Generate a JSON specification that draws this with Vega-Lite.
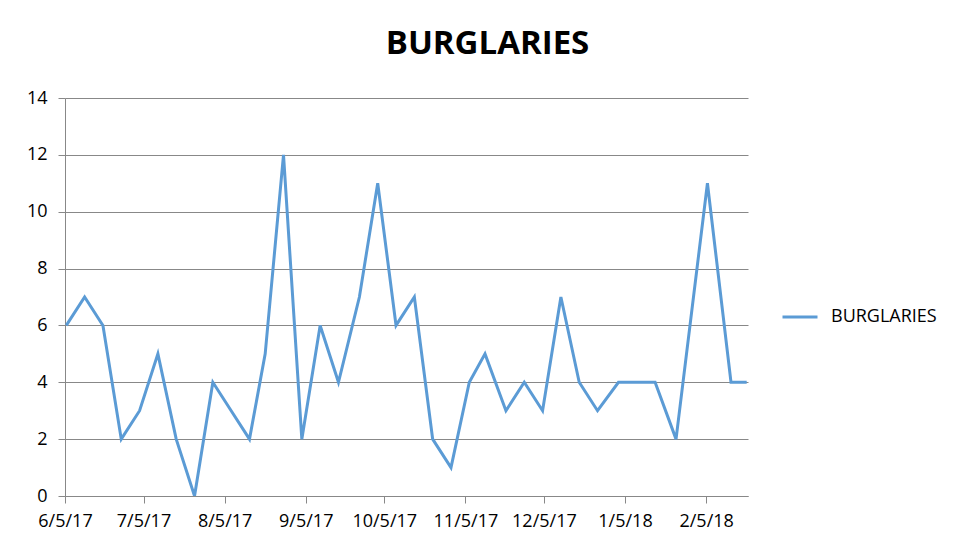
{
  "$schema": "https://vega.github.io/schema/vega-lite/v6.json",
  "autosize": {"type": "none"},
  "width": 683,
  "height": 398,
  "padding": {"left": 65, "top": 98, "right": 205, "bottom": 50},
  "background": "white",
  "title": {
    "text": "BURGLARIES",
    "font": "Open Sans",
    "fontSize": 33,
    "fontWeight": "bold",
    "color": "#000000",
    "anchor": "middle",
    "dx": 81,
    "dy": 37,
    "baseline": "alphabetic",
    "offset": 39
  },
  "data": {
    "values": [
      {"date": "2017-06-05", "series": "BURGLARIES", "count": 6},
      {"date": "2017-06-12", "series": "BURGLARIES", "count": 7},
      {"date": "2017-06-19", "series": "BURGLARIES", "count": 6},
      {"date": "2017-06-26", "series": "BURGLARIES", "count": 2},
      {"date": "2017-07-03", "series": "BURGLARIES", "count": 3},
      {"date": "2017-07-10", "series": "BURGLARIES", "count": 5},
      {"date": "2017-07-17", "series": "BURGLARIES", "count": 2},
      {"date": "2017-07-24", "series": "BURGLARIES", "count": 0},
      {"date": "2017-07-31", "series": "BURGLARIES", "count": 4},
      {"date": "2017-08-07", "series": "BURGLARIES", "count": 3},
      {"date": "2017-08-14", "series": "BURGLARIES", "count": 2},
      {"date": "2017-08-20", "series": "BURGLARIES", "count": 5},
      {"date": "2017-08-27", "series": "BURGLARIES", "count": 12},
      {"date": "2017-09-03", "series": "BURGLARIES", "count": 2},
      {"date": "2017-09-10", "series": "BURGLARIES", "count": 6},
      {"date": "2017-09-17", "series": "BURGLARIES", "count": 4},
      {"date": "2017-09-25", "series": "BURGLARIES", "count": 7},
      {"date": "2017-10-02", "series": "BURGLARIES", "count": 11},
      {"date": "2017-10-09", "series": "BURGLARIES", "count": 6},
      {"date": "2017-10-16", "series": "BURGLARIES", "count": 7},
      {"date": "2017-10-23", "series": "BURGLARIES", "count": 2},
      {"date": "2017-10-30", "series": "BURGLARIES", "count": 1},
      {"date": "2017-11-06", "series": "BURGLARIES", "count": 4},
      {"date": "2017-11-12", "series": "BURGLARIES", "count": 5},
      {"date": "2017-11-20", "series": "BURGLARIES", "count": 3},
      {"date": "2017-11-27", "series": "BURGLARIES", "count": 4},
      {"date": "2017-12-04", "series": "BURGLARIES", "count": 3},
      {"date": "2017-12-11", "series": "BURGLARIES", "count": 7},
      {"date": "2017-12-18", "series": "BURGLARIES", "count": 4},
      {"date": "2017-12-25", "series": "BURGLARIES", "count": 3},
      {"date": "2018-01-02", "series": "BURGLARIES", "count": 4},
      {"date": "2018-01-09", "series": "BURGLARIES", "count": 4},
      {"date": "2018-01-16", "series": "BURGLARIES", "count": 4},
      {"date": "2018-01-24", "series": "BURGLARIES", "count": 2},
      {"date": "2018-02-05", "series": "BURGLARIES", "count": 11},
      {"date": "2018-02-14", "series": "BURGLARIES", "count": 4},
      {"date": "2018-02-20", "series": "BURGLARIES", "count": 4}
    ]
  },
  "mark": {"type": "line", "strokeWidth": 3, "strokeJoin": "miter", "clip": true},
  "encoding": {
    "x": {
      "field": "date",
      "type": "temporal",
      "scale": {
        "domain": [
          {"year": 2017, "month": 6, "date": 4, "hours": 12},
          {"year": 2018, "month": 2, "date": 20, "hours": 12}
        ]
      },
      "axis": {
        "title": null,
        "values": [
          {"year": 2017, "month": 6, "date": 4, "hours": 12},
          {"year": 2017, "month": 7, "date": 4, "hours": 12},
          {"year": 2017, "month": 8, "date": 4, "hours": 12},
          {"year": 2017, "month": 9, "date": 4, "hours": 12},
          {"year": 2017, "month": 10, "date": 4, "hours": 12},
          {"year": 2017, "month": 11, "date": 4, "hours": 12},
          {"year": 2017, "month": 12, "date": 4, "hours": 12},
          {"year": 2018, "month": 1, "date": 4, "hours": 12},
          {"year": 2018, "month": 2, "date": 4, "hours": 12}
        ],
        "labelExpr": "timeFormat(timeOffset('hours', datetime(datum.value), 12), '%-m/%-d/%y')",
        "grid": false,
        "domain": true,
        "domainColor": "#888888",
        "domainWidth": 1,
        "ticks": true,
        "tickColor": "#888888",
        "tickSize": 7,
        "labelFont": "Open Sans",
        "labelFontSize": 18,
        "labelColor": "#000000",
        "labelPadding": 9,
        "labelFlush": false,
        "labelOverlap": false
      }
    },
    "y": {
      "field": "count",
      "type": "quantitative",
      "scale": {"domain": [0, 14], "nice": false},
      "axis": {
        "title": null,
        "values": [0, 2, 4, 6, 8, 10, 12, 14],
        "grid": true,
        "gridColor": "#888888",
        "gridWidth": 1,
        "domain": true,
        "domainColor": "#888888",
        "tickColor": "#888888",
        "tickSize": 7,
        "labelFont": "Open Sans",
        "labelFontSize": 18,
        "labelColor": "#000000",
        "labelPadding": 11
      }
    },
    "color": {
      "field": "series",
      "type": "nominal",
      "scale": {"range": ["#5B9BD5"]},
      "legend": {
        "title": null,
        "orient": "none",
        "legendX": 716,
        "legendY": 200,
        "symbolType": "stroke",
        "symbolStrokeWidth": 3,
        "symbolSize": 1225,
        "labelFont": "Open Sans",
        "labelFontSize": 18,
        "labelColor": "#000000",
        "labelOffset": 12
      }
    }
  },
  "config": {"view": {"stroke": null}}
}
